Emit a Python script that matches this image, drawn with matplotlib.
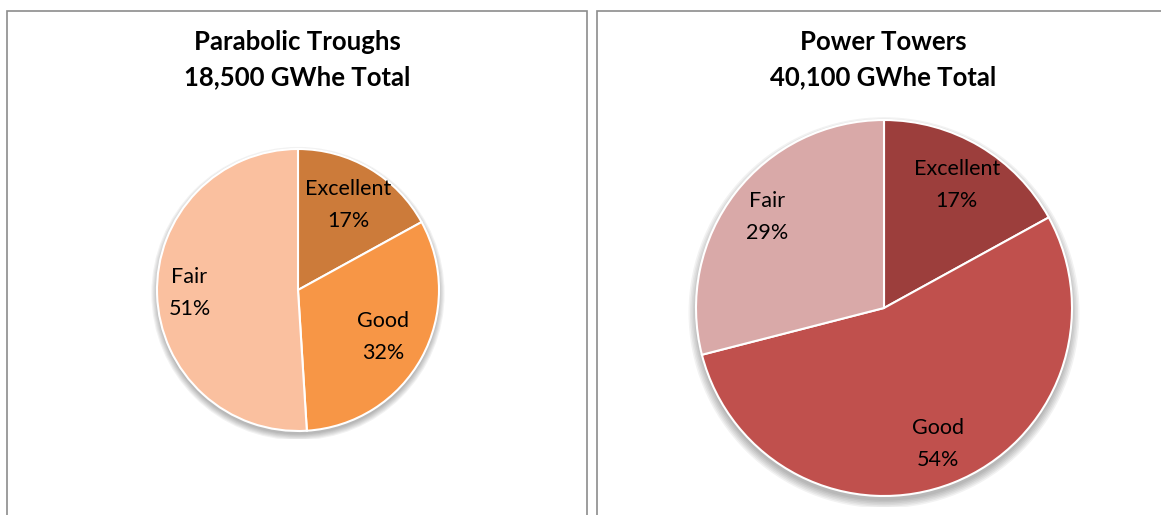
import numpy as np
import matplotlib
matplotlib.use('Agg')
import matplotlib.pyplot as plt
from matplotlib.patches import Circle, Rectangle

plt.rcParams['font.family'] = ['Lato', 'DejaVu Sans']

categories = ['Excellent', 'Good', 'Fair']

trough_title = ['Parabolic Troughs', '18,500 GWhe Total']
trough_share = [17, 32, 51]
trough_colors = ['#CC7B3A', '#F79646', '#FAC09F']

tower_title = ['Power Towers', '40,100 GWhe Total']
tower_share = [17, 54, 29]
tower_colors = ['#9C3E3C', '#C0504D', '#D9A9A8']

W, H = 1161, 515
fig = plt.figure(figsize=(W / 100, H / 100), dpi=100)
fig.patch.set_facecolor('white')

# panel frames (open at the bottom / right like the cropped screenshot)
for x0, x1 in [(7, 587), (597, 1175)]:
    fig.add_artist(Rectangle((x0 / W, -0.05), (x1 - x0) / W, (H - 11) / H + 0.05,
                             transform=fig.transFigure, fill=False,
                             edgecolor='#8c8c8c', linewidth=1.2))


def draw_pie(cx, cy, r, values, colors, dists, title, tx):
    pad = 1.06
    ax = fig.add_axes([(cx - r * pad) / W, (H - cy - r * pad) / H,
                       2 * r * pad / W, 2 * r * pad / H])
    # soft shadow
    for k in range(6):
        ax.add_patch(Circle((0, -0.025), 1.0 + 0.008 * k, color='black',
                            alpha=0.05, zorder=0, linewidth=0))
    wedges, _ = ax.pie(values, colors=colors, startangle=90, counterclock=False,
                       radius=1.0,
                       wedgeprops=dict(edgecolor='white', linewidth=1.5))
    for w, name, v, d in zip(wedges, categories, values, dists):
        ang = np.deg2rad((w.theta1 + w.theta2) / 2)
        ax.text(d * np.cos(ang), d * np.sin(ang), f'{name}\n{v}%',
                ha='center', va='center', fontsize=15.5, linespacing=1.75,
                color='black')
    ax.set_xlim(-pad, pad)
    ax.set_ylim(-pad, pad)
    ax.set_aspect('equal')
    ax.axis('off')
    fig.text(tx / W, 1 - 42 / H, title[0], ha='center', va='center',
             fontsize=18.5, fontweight='bold')
    fig.text(tx / W, 1 - 77 / H, title[1], ha='center', va='center',
             fontsize=18.5, fontweight='bold')


draw_pie(298, 290, 141, trough_share, trough_colors, [0.70, 0.69, 0.77],
         trough_title, 297)
draw_pie(884, 308, 188, tower_share, tower_colors, [0.76, 0.78, 0.79],
         tower_title, 883)

fig.savefig('out.png', dpi=100)
